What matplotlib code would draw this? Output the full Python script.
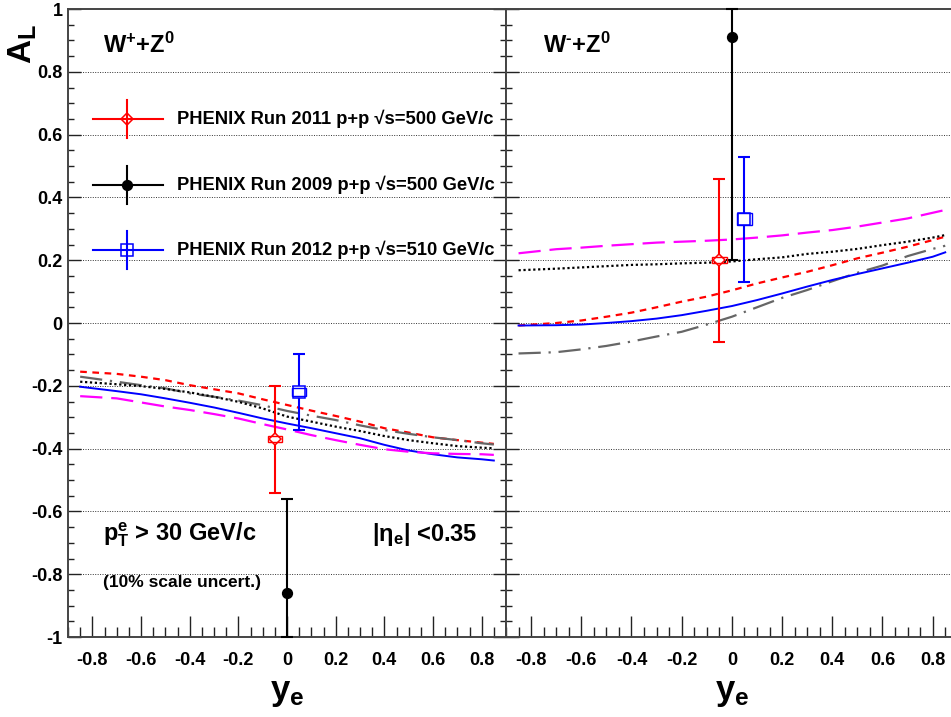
import numpy as np
import matplotlib
matplotlib.use("Agg")
import matplotlib.pyplot as plt
from matplotlib.patches import Rectangle
from matplotlib.ticker import MultipleLocator, FuncFormatter
from matplotlib.lines import Line2D

plt.rcParams['font.family'] = ['Liberation Sans', 'DejaVu Sans']
plt.rcParams['font.weight'] = 'bold'
plt.rcParams['mathtext.fontset'] = 'custom'
plt.rcParams['mathtext.rm'] = 'Liberation Sans:bold'
plt.rcParams['mathtext.bf'] = 'Liberation Sans:bold'
plt.rcParams['mathtext.it'] = 'Liberation Sans:bold:italic'
plt.rcParams['mathtext.default'] = 'bf'
plt.rcParams['axes.unicode_minus'] = False

# ---------------- data ----------------
theory_x = [-0.85, -0.7, -0.6, -0.5, -0.4, -0.3, -0.2, -0.1, 0.0,
            0.1, 0.2, 0.3, 0.4, 0.5, 0.6, 0.7, 0.8, 0.85]

# W+ + Z0 (left panel)
wp_red_dash     = [-0.155, -0.162, -0.171, -0.182, -0.198, -0.211, -0.224, -0.243, -0.261,
                   -0.279, -0.296, -0.314, -0.335, -0.349, -0.364, -0.373, -0.381, -0.385]
wp_gray_dashdot = [-0.171, -0.187, -0.198, -0.208, -0.224, -0.235, -0.247, -0.262, -0.280,
                   -0.295, -0.309, -0.326, -0.341, -0.353, -0.364, -0.373, -0.383, -0.387]
wp_black_dot    = [-0.187, -0.195, -0.201, -0.210, -0.221, -0.235, -0.251, -0.272, -0.298,
                   -0.314, -0.330, -0.344, -0.360, -0.373, -0.383, -0.392, -0.397, -0.399]
wp_blue_solid   = [-0.203, -0.217, -0.227, -0.240, -0.254, -0.269, -0.286, -0.304, -0.320,
                   -0.335, -0.351, -0.367, -0.388, -0.406, -0.418, -0.428, -0.434, -0.438]
wp_magenta_dash = [-0.233, -0.240, -0.253, -0.266, -0.277, -0.290, -0.304, -0.322, -0.339,
                   -0.357, -0.373, -0.388, -0.402, -0.410, -0.415, -0.417, -0.418, -0.420]

# W- + Z0 (right panel)
wm_magenta_dash = [0.222, 0.235, 0.240, 0.246, 0.251, 0.256, 0.259, 0.262, 0.266,
                   0.272, 0.279, 0.288, 0.296, 0.307, 0.320, 0.333, 0.351, 0.360]
wm_black_dot    = [0.168, 0.173, 0.177, 0.181, 0.185, 0.187, 0.190, 0.192, 0.196,
                   0.203, 0.209, 0.220, 0.227, 0.236, 0.248, 0.259, 0.272, 0.280]
wm_red_dash     = [-0.008, 0.000, 0.008, 0.020, 0.033, 0.050, 0.068, 0.084, 0.104,
                   0.126, 0.145, 0.163, 0.184, 0.206, 0.224, 0.243, 0.264, 0.275]
wm_blue_solid   = [-0.008, -0.007, -0.005, 0.000, 0.006, 0.014, 0.025, 0.039, 0.054,
                   0.073, 0.094, 0.116, 0.137, 0.156, 0.174, 0.192, 0.211, 0.225]
wm_gray_dashdot = [-0.097, -0.093, -0.084, -0.073, -0.059, -0.043, -0.028, -0.005, 0.020,
                   0.050, 0.080, 0.105, 0.133, 0.160, 0.183, 0.213, 0.236, 0.246]

# data points: Run 2011 (red), Run 2009 (black), Run 2012 (blue)
run_labels = ["PHENIX Run 2011 p+p \u221as=500 GeV/c",
              "PHENIX Run 2009 p+p \u221as=500 GeV/c",
              "PHENIX Run 2012 p+p \u221as=510 GeV/c"]
pt_x = [-0.05, 0.0, 0.05]
wp_y = [-0.37, -0.86, -0.22]
wp_err = [0.17, 0.30, 0.12]
wp_syst = [0.010, 0.0, 0.013]
wm_y = [0.20, 0.91, 0.33]
wm_err = [0.26, 0.71, 0.20]
wm_syst = [0.010, 0.0, 0.019]

y_ticks = [-1, -0.8, -0.6, -0.4, -0.2, 0, 0.2, 0.4, 0.6, 0.8, 1]
x_ticks = [-0.8, -0.6, -0.4, -0.2, 0, 0.2, 0.4, 0.6, 0.8]

# ---------------- styles ----------------
run_colors = ['#ff0000', '#000000', '#0000ff']
run_markers = ['D', 'o', 's']
run_msize = [6.5, 7, 8]
run_mfc = ['white', '#000000', 'white']

W, H = 951, 717
fig = plt.figure(figsize=(W / 100, H / 100), dpi=100)
bottom = (H - 637) / H
height = (637 - 9) / H
axL = fig.add_axes([68 / W, bottom, (506 - 68) / W, height])
axR = fig.add_axes([506 / W, bottom, (951 - 506) / W, height])

YMIN, YMAX = -1.0, 1.0

def style_axis(ax, xlim, left_labels):
    ax.set_xlim(*xlim)
    ax.set_ylim(YMIN, YMAX)
    ax.set_yticks(y_ticks)
    ax.set_xticks(x_ticks)
    ax.xaxis.set_minor_locator(MultipleLocator(0.05))
    ax.yaxis.set_minor_locator(MultipleLocator(0.05))
    fmt = FuncFormatter(lambda v, p: ('%g' % round(v, 2)))
    ax.xaxis.set_major_formatter(fmt)
    ax.yaxis.set_major_formatter(fmt)
    ax.tick_params(axis='x', which='major', direction='in', length=15, width=1.0,
                   labelsize=13, pad=10.5, top=False, color='#222222')
    ax.tick_params(axis='x', which='minor', direction='in', length=7.5, width=1.0,
                   top=False, color='#222222')
    ax.tick_params(axis='y', which='major', direction='in', length=9.5, width=1.0,
                   labelsize=13, pad=4, labelleft=left_labels, color='#222222')
    ax.tick_params(axis='y', which='minor', direction='in', length=4.5, width=1.0,
                   color='#222222')
    for lab in ax.get_xticklabels() + ax.get_yticklabels():
        lab.set_fontweight('bold')
    for s in ax.spines.values():
        s.set_linewidth(1.4)
        s.set_color('#444444')
    for v in y_ticks:
        if abs(v) < 0.99:
            ax.axhline(v, color='#333333', lw=0.7, ls=(0, (1, 1.5)), zorder=0.5)
    ax.set_facecolor('white')

style_axis(axL, (-0.9, 0.9), True)
axL.tick_params(axis='y', which='both', right=True)
style_axis(axR, (-0.9, 0.873), False)
axR.spines['right'].set_visible(False)

theory_styles = [
    dict(color='#ff0000', lw=1.6, ls=(0, (3, 2.5))),
    dict(color='#666666', lw=1.6, ls=(0, (10, 3.5, 1, 3.5))),
    dict(color='#000000', lw=1.6, ls=(0, (1, 1.2))),
    dict(color='#0000ff', lw=1.4, ls='-'),
    dict(color='#ff00ff', lw=1.6, ls=(0, (10, 4))),
]
wp_curves = [wp_red_dash, wp_gray_dashdot, wp_black_dot, wp_blue_solid, wp_magenta_dash]
wm_curves = [wm_red_dash, wm_gray_dashdot, wm_black_dot, wm_blue_solid, wm_magenta_dash]

for ax, curves in ((axL, wp_curves), (axR, wm_curves)):
    for c, st in zip(curves, theory_styles):
        ax.plot(theory_x, c, zorder=2, **st)

def draw_points(ax, ys, errs, systs):
    for i in range(3):
        x, y, e, s = pt_x[i], ys[i], errs[i], systs[i]
        lo = max(y - e, YMIN)
        hi = min(y + e, YMAX)
        col = run_colors[i]
        ax.errorbar([x], [y], yerr=[[y - lo], [hi - y]], fmt='none', ecolor=col,
                    elinewidth=1.5, capsize=4, capthick=1.5, zorder=3, clip_on=False)
        ax.plot([x], [y], marker=run_markers[i], ms=run_msize[i], mfc=run_mfc[i],
                mec=col, mew=1.1, ls='none', zorder=4)
        if s > 0:
            ax.add_patch(Rectangle((x - 0.03, y - s), 0.06, 2 * s, fill=False,
                                   edgecolor=col, lw=1.0, zorder=5))

draw_points(axL, wp_y, wp_err, wp_syst)
draw_points(axR, wm_y, wm_err, wm_syst)

# legend (left panel, drawn manually in axes-fraction coords)
def fx(px):
    return (px - 68) / 438
def fy(py):
    return (637 - py) / 628

leg_rows = [119, 185, 250]
leg_msize = [6, 7, 8]
for i, py in enumerate(leg_rows):
    col = run_colors[i]
    axL.add_line(Line2D([fx(93), fx(163)], [fy(py), fy(py)], transform=axL.transAxes,
                        color=col, lw=1.5, zorder=6))
    axL.add_line(Line2D([fx(127), fx(127)], [fy(py - 19), fy(py + 19)],
                        transform=axL.transAxes, color=col, lw=1.5, zorder=6))
    axL.plot([fx(127)], [fy(py)], transform=axL.transAxes, marker=run_markers[i],
             ms=leg_msize[i], mfc='none' if i != 1 else col, mec=col, mew=1.1,
             zorder=7)
    axL.text(fx(177), fy(py), run_labels[i], transform=axL.transAxes, fontsize=13.2,
             fontweight='bold', ha='left', va='center', zorder=7)

axL.text(fx(103), fy(45), "W$^{+}$+Z$^{0}$", transform=axL.transAxes, fontsize=17,
         ha='left', va='center')
axR.text((543 - 506) / 445, fy(45), "W$^{\u2010}$+Z$^{0}$", transform=axR.transAxes,
         fontsize=17, ha='left', va='center')
axL.text(fx(103), fy(535), "p$_{T}^{e}$ > 30 GeV/c", transform=axL.transAxes,
         fontsize=17, ha='left', va='center')
axL.text(fx(372), fy(535), "|$\\eta_{e}$| <0.35", transform=axL.transAxes,
         fontsize=17, ha='left', va='center')
axL.text(fx(103), fy(583), "(10% scale uncert.)", transform=axL.transAxes,
         fontsize=12.5, fontweight='bold', ha='left', va='center')

# axis titles
fig.text(23 / W, 1 - 24 / H, "A$_{L}$", rotation=90, fontsize=24, ha='center', va='top')
for ax in (axL, axR):
    ax.text(0.0, -0.088, "y$_{e}$", transform=ax.get_xaxis_transform(), fontsize=25,
            ha='center', va='center')

fig.savefig("out.png", dpi=100, facecolor='white')
